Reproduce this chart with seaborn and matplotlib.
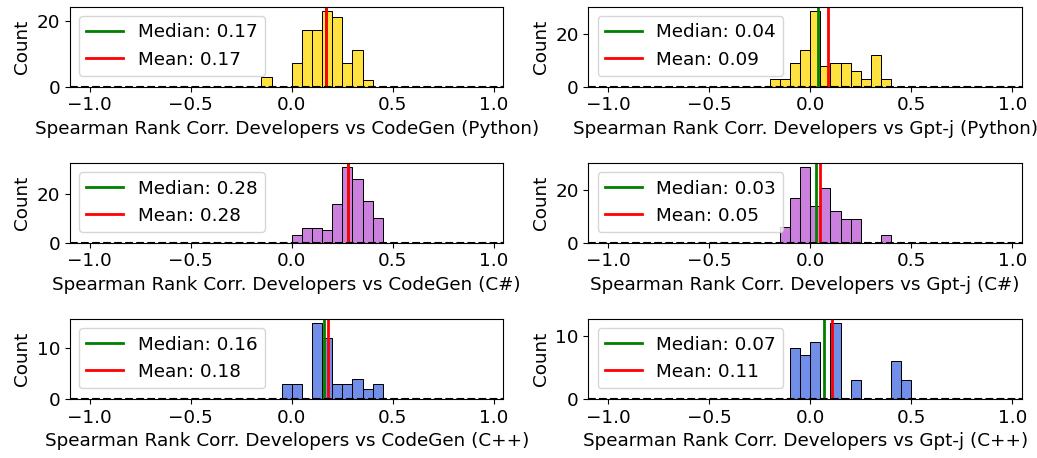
import numpy as np
import pandas as pd
import seaborn as sns
import matplotlib
matplotlib.use("Agg")
import matplotlib.pyplot as plt

# histogram counts, keyed by bin start (bin width 0.05)
cg_py_bins = [-0.15, 0.00, 0.05, 0.10, 0.15, 0.20, 0.25, 0.30, 0.35]
cg_py_counts = [3, 7, 17, 17, 23, 21, 7, 11, 2]
cg_py_median, cg_py_mean = 0.17, 0.17

gj_py_bins = [-0.20, -0.15, -0.10, -0.05, 0.00, 0.05, 0.10, 0.15, 0.20, 0.25, 0.30, 0.35]
gj_py_counts = [3, 3, 9, 14, 29, 8, 9, 9, 6, 3, 12, 3]
gj_py_median, gj_py_mean = 0.04, 0.09

cg_cs_bins = [0.00, 0.05, 0.10, 0.15, 0.20, 0.25, 0.30, 0.35, 0.40]
cg_cs_counts = [3, 6, 6, 5, 16, 31, 26, 17, 10]
cg_cs_median, cg_cs_mean = 0.28, 0.28

gj_cs_bins = [-0.15, -0.10, -0.05, 0.00, 0.05, 0.10, 0.15, 0.20, 0.35]
gj_cs_counts = [6, 17, 29, 14, 21, 12, 9, 9, 3]
gj_cs_median, gj_cs_mean = 0.03, 0.05

cg_cpp_bins = [-0.05, 0.00, 0.10, 0.15, 0.20, 0.25, 0.30, 0.35, 0.40]
cg_cpp_counts = [3, 3, 15, 12, 3, 3, 4, 2, 3]
cg_cpp_median, cg_cpp_mean = 0.16, 0.18

gj_cpp_bins = [-0.10, -0.05, 0.00, 0.10, 0.20, 0.40, 0.45]
gj_cpp_counts = [8, 7, 9, 12, 3, 6, 3]
gj_cpp_median, gj_cpp_mean = 0.07, 0.11

panels = [
    ("CodeGen (Python)", cg_py_bins, cg_py_counts, cg_py_median, cg_py_mean, "gold"),
    ("Gpt-j (Python)", gj_py_bins, gj_py_counts, gj_py_median, gj_py_mean, "gold"),
    ("CodeGen (C#)", cg_cs_bins, cg_cs_counts, cg_cs_median, cg_cs_mean, "mediumorchid"),
    ("Gpt-j (C#)", gj_cs_bins, gj_cs_counts, gj_cs_median, gj_cs_mean, "mediumorchid"),
    ("CodeGen (C++)", cg_cpp_bins, cg_cpp_counts, cg_cpp_median, cg_cpp_mean, "royalblue"),
    ("Gpt-j (C++)", gj_cpp_bins, gj_cpp_counts, gj_cpp_median, gj_cpp_mean, "royalblue"),
]

plt.rcParams["font.size"] = 13.2

fig, axes = plt.subplots(3, 2, figsize=(10.37, 4.58), dpi=100)
fig.subplots_adjust(left=0.0675, right=0.9855, top=0.985, bottom=0.129,
                    wspace=0.196, hspace=0.96)

for ax, (name, starts, counts, med, mean, color) in zip(axes.flat, panels):
    df = pd.DataFrame({"x": np.array(starts) + 0.025, "w": counts})
    sns.histplot(data=df, x="x", weights="w", binwidth=0.05, binrange=(-1, 0.95),
                 color=color, edgecolor="black", ax=ax)
    ax.axhline(0, color="black", linestyle="--", linewidth=1.5, zorder=5)
    ax.axvline(med, color="green", linewidth=2, label=f"Median: {med:.2f}")
    ax.axvline(mean, color="red", linewidth=2, label=f"Mean: {mean:.2f}")
    ax.set_xlabel(f"Spearman Rank Corr. Developers vs {name}")
    ax.set_ylabel("Count")
    ax.set_xticks([-1.0, -0.5, 0.0, 0.5, 1.0])
    ax.legend(loc="upper left")

fig.savefig("out.png", dpi=100)
